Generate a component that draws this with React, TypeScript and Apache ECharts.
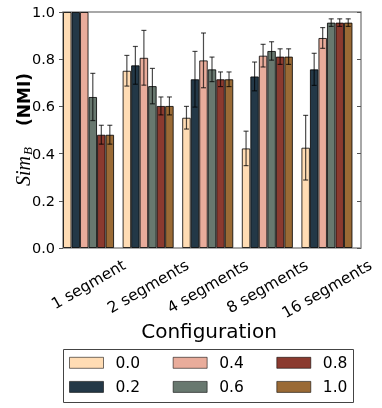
import React, { useEffect, useRef } from "react";
import * as echarts from "echarts";

const categories = ["1 segment", "2 segments", "4 segments", "8 segments", "16 segments"];
const seriesNames = ["0.0", "0.2", "0.4", "0.6", "0.8", "1.0"];
const colors = ["#FFDCB4", "#233847", "#E9AC9B", "#68786F", "#8B3A2F", "#9A6A35"];

const v00 = [1.0, 0.751, 0.552, 0.422, 0.425];
const v02 = [1.0, 0.774, 0.715, 0.727, 0.757];
const v04 = [1.0, 0.806, 0.795, 0.815, 0.89];
const v06 = [0.64, 0.686, 0.757, 0.835, 0.955];
const v08 = [0.48, 0.602, 0.715, 0.811, 0.955];
const v10 = [0.48, 0.602, 0.715, 0.811, 0.955];

const e00 = [0, 0.065, 0.048, 0.073, 0.137];
const e02 = [0, 0.08, 0.118, 0.061, 0.068];
const e04 = [0, 0.116, 0.116, 0.048, 0.044];
const e06 = [0.1, 0.075, 0.052, 0.039, 0.016];
const e08 = [0.04, 0.038, 0.031, 0.033, 0.016];
const e10 = [0.04, 0.038, 0.031, 0.033, 0.016];

const yTicks = [0, 0.2, 0.4, 0.6, 0.8, 1.0];

const values = [v00, v02, v04, v06, v08, v10];
const errors = [e00, e02, e04, e06, e08, e10];

const FONT = "DejaVu Sans";
const LABEL_SIZE = 15.5;
const SLOTS = 7;

function measure(text: string, font: string): number {
  const c = document.createElement("canvas");
  const ctx = c.getContext("2d");
  if (!ctx) return text.length * 9;
  ctx.font = font;
  return ctx.measureText(text).width;
}

export default function App() {
  const ref = useRef<HTMLDivElement>(null);
  useEffect(() => {
    if (!ref.current) return;
    const chart = echarts.init(ref.current, undefined, { renderer: "svg" });
    const labelWidths = categories.map((c) => measure(c, `${LABEL_SIZE}px "${FONT}"`));

    const barSeries: any[] = seriesNames.map((name, s) => ({
      name,
      type: "bar",
      data: values[s],
      barGap: "0%",
      barCategoryGap: "0%",
      itemStyle: { color: colors[s], borderColor: "rgba(0,0,0,0.8)", borderWidth: 1 },
      emphasis: { disabled: true },
    }));
    barSeries.push({
      name: "_gap",
      type: "bar",
      data: categories.map(() => "-"),
      barGap: "0%",
      barCategoryGap: "0%",
      itemStyle: { color: "transparent" },
    });

    const errSeries = {
      type: "custom",
      clip: false,
      z: 10,
      data: categories.map((_, i) => [i, 0]),
      renderItem: (params: any, api: any) => {
        const idx = params.dataIndex;
        const base = api.coord([idx, 0]);
        const bw = api.size([1, 0])[0];
        const slot = bw / SLOTS;
        const start = base[0] - bw / 2;
        const children: any[] = [];
        for (let s = 0; s < seriesNames.length; s++) {
          const e = errors[s][idx];
          if (e <= 0) continue;
          const v = values[s][idx];
          const x = start + (s + 0.5) * slot;
          const yHi = api.coord([idx, v + e])[1];
          const yLo = api.coord([idx, v - e])[1];
          const st = { stroke: "rgba(0,0,0,0.7)", lineWidth: 1.2 };
          children.push({ type: "line", shape: { x1: x, y1: yHi, x2: x, y2: yLo }, style: st });
          children.push({ type: "line", shape: { x1: x - 2.5, y1: yHi, x2: x + 2.5, y2: yHi }, style: st });
          children.push({ type: "line", shape: { x1: x - 2.5, y1: yLo, x2: x + 2.5, y2: yLo }, style: st });
        }
        const gc = start + 3 * slot;
        const L = labelWidths[idx];
        const hbox = LABEL_SIZE * 1.164;
        const halfH = (L * 0.5 + hbox * 0.866) / 2;
        children.push({
          type: "text",
          x: gc,
          y: base[1] + 8 + halfH,
          rotation: Math.PI / 6,
          style: {
            text: categories[idx],
            fontSize: LABEL_SIZE,
            fontFamily: FONT,
            fill: "#000",
            align: "center",
            verticalAlign: "middle",
          },
        });
        return { type: "group", children };
      },
    };

    const legendCommon = {
      orient: "horizontal",
      itemWidth: 34,
      itemHeight: 11,
      itemGap: 32.5,
      padding: 0,
      icon: "rect",
      selectedMode: false,
      itemStyle: { borderColor: "rgba(0,0,0,0.55)", borderWidth: 1 },
      textStyle: { fontSize: 15.5, fontFamily: FONT, color: "#000", padding: [0, 0, 0, 7], lineHeight: 16 },
    };

    chart.setOption({
      animation: false,
      grid: {
        left: 63,
        top: 12,
        width: 298,
        height: 236,
        show: true,
        borderColor: "#8c8c8c",
        borderWidth: 1.5,
        backgroundColor: "transparent",
      },
      xAxis: {
        type: "category",
        data: categories,
        axisLine: { show: false },
        axisTick: { show: false },
        axisLabel: { show: false },
        splitLine: { show: false },
      },
      yAxis: [
        {
          type: "value",
          min: yTicks[0],
          max: yTicks[yTicks.length - 1],
          interval: 0.2,
          axisLine: { show: false },
          axisTick: { show: true, inside: false, length: 4, lineStyle: { color: "#555" } },
          axisLabel: {
            formatter: (v: number) => v.toFixed(1),
            margin: 8,
            fontSize: 14.5,
            fontFamily: FONT,
            color: "#000",
          },
          splitLine: { show: false },
        },
        {
          type: "value",
          position: "right",
          min: yTicks[0],
          max: yTicks[yTicks.length - 1],
          interval: 0.2,
          axisLine: { show: false },
          axisTick: { show: true, inside: true, length: 4, lineStyle: { color: "#555" } },
          axisLabel: { show: false },
          splitLine: { show: false },
        },
      ],
      legend: [
        { ...legendCommon, data: ["0.0", "0.4", "0.8"], left: 69, top: 354.8 },
        { ...legendCommon, data: ["0.2", "0.6", "1.0"], left: 69, top: 378.9 },
      ],
      graphic: [
        {
          type: "rect",
          shape: { x: 63.5, y: 349.5, width: 290, height: 53 },
          style: { fill: "none", stroke: "#444", lineWidth: 1 },
          silent: true,
        },
        {
          type: "text",
          x: 209,
          y: 331,
          style: { text: "Configuration", fontSize: 20, fontFamily: FONT, fill: "#000", align: "center", verticalAlign: "middle" },
        },
        {
          type: "text",
          x: 23.3,
          y: 186,
          rotation: Math.PI / 2,
          style: { text: "Sim", fontSize: 20, fontFamily: "Liberation Serif", fontStyle: "italic", fill: "#000", align: "left", verticalAlign: "middle" },
        },
        {
          type: "text",
          x: 27.6,
          y: 155,
          rotation: Math.PI / 2,
          style: { text: "B", fontSize: 13, fontFamily: "Liberation Serif", fontStyle: "italic", fill: "#000", align: "left", verticalAlign: "middle" },
        },
        {
          type: "text",
          x: 24,
          y: 126,
          rotation: Math.PI / 2,
          style: { text: "(NMI)", fontSize: 17, fontWeight: "bold", fontFamily: FONT, fill: "#000", align: "left", verticalAlign: "middle" },
        },
      ],
      series: [...barSeries, errSeries],
    });
    return () => chart.dispose();
  }, []);
  return <div ref={ref} style={{ position: "fixed", left: 0, top: 0, width: 382, height: 408 }} />;
}
